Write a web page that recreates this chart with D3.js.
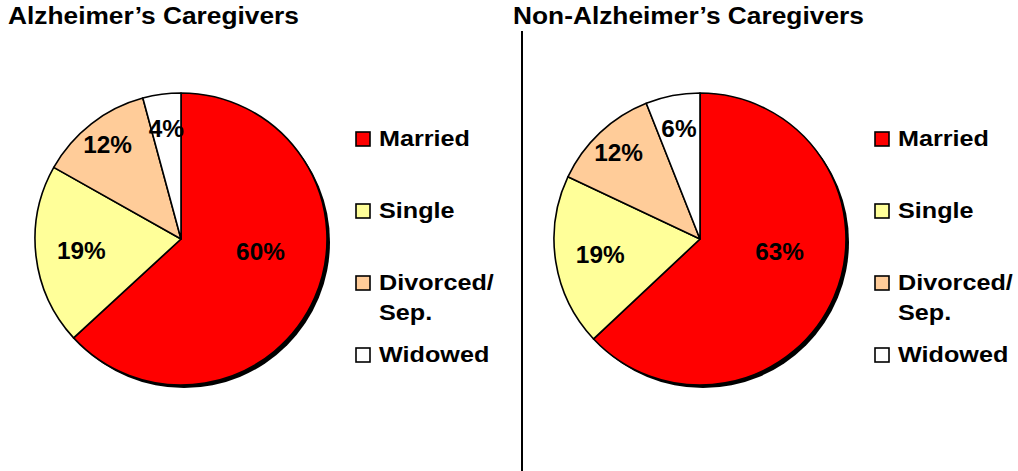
<!DOCTYPE html>
<html>
<head>
<meta charset="utf-8">
<script src="https://cdn.jsdelivr.net/npm/d3@7"></script>
<style>
  body { margin: 0; background: #fff; }
  svg { display: block; }
  text { font-family: "Liberation Sans", Arial, sans-serif; font-weight: bold; fill: #000; }
</style>
</head>
<body>
<svg id="chart"></svg>
<script>
// Marital status of caregivers
const categories = ['Married', 'Single', 'Divorced/ Sep.', 'Widowed'];
const legendLines = [['Married'], ['Single'], ['Divorced/', 'Sep.'], ['Widowed']];
const colors = ['#FF0000', '#FFFF99', '#FFCC99', '#FFFFFF'];
const titles = ['Alzheimer\u2019s Caregivers', 'Non-Alzheimer\u2019s Caregivers'];
const alzValues = [60, 19, 12, 4];
const nonAlzValues = [63, 19, 12, 6];

const WIDTH = 1018;
const HEIGHT = 471;

const radius = 146;
const panelOffset = 519;
const titleStretch = 1.12;
const labelStretch = 1.06;
const legendStretch = 1.12;

let svg = d3.select('#chart')
    .attr('width', WIDTH)
    .attr('height', HEIGHT);

let color = d3.scaleOrdinal()
    .domain(categories)
    .range(colors);

let pie = d3.pie()
    .value(d => d.value)
    .sort(null);

let arc = d3.arc()
    .innerRadius(0)
    .outerRadius(radius);

// "best fit" style: wide slices keep their label nearer the centre
let labelRadius = d3.scaleLinear()
    .domain([0.3, 0.8, 1.2, 4])
    .range([0.76, 0.82, 0.69, 0.55])
    .clamp(true);

function labelPos(d) {
    let span = d.endAngle - d.startAngle;
    let mid = (d.startAngle + d.endAngle) / 2;
    // the big slice label drifts up towards 3 o'clock
    if (span > Math.PI) mid -= 0.25;
    let r = radius * labelRadius(span);
    return [r * Math.sin(mid), -r * Math.cos(mid)];
}

// divider between the two panels
svg.append('line')
    .attr('x1', 522).attr('x2', 522)
    .attr('y1', 31).attr('y2', HEIGHT)
    .attr('stroke', '#000')
    .attr('stroke-width', 2);

function drawPanel(values, title, i) {
    let data = categories.map((c, j) => ({ name: c, value: values[j] }));
    let panel = svg.append('g')
        .attr('transform', `translate(${i * panelOffset}, 0)`);

    panel.append('text')
        .attr('transform', `translate(${8 - i * 14}, 24) scale(${titleStretch}, 1)`)
        .style('font-size', '23.5px')
        .text(title);

    let g = panel.append('g')
        .attr('transform', `translate(181, 239)`);

    // drop shadow
    g.append('circle')
        .attr('cx', 3).attr('cy', 3)
        .attr('r', radius)
        .attr('fill', '#000');

    let arcs = pie(data);

    g.selectAll('.slice')
        .data(arcs)
        .enter().append('path')
        .attr('class', 'slice')
        .attr('d', arc)
        .attr('fill', d => color(d.data.name))
        .attr('stroke', '#000')
        .attr('stroke-width', 1.6)
        .attr('stroke-linejoin', 'round');

    g.selectAll('.pct')
        .data(arcs)
        .enter().append('text')
        .attr('class', 'pct')
        .attr('transform', d => {
            let [x, y] = labelPos(d);
            return `translate(${x}, ${y}) scale(${labelStretch}, 1)`;
        })
        .attr('text-anchor', 'middle')
        .attr('dy', '0.36em')
        .style('font-size', '23px')
        .text(d => d.data.value + '%');

    // legend
    let legend = panel.append('g')
        .attr('transform', 'translate(379, 0)');

    let item = legend.selectAll('.item')
        .data(legendLines)
        .enter().append('g')
        .attr('class', 'item')
        .attr('transform', (d, j) => `translate(0, ${146 + j * 72})`);

    item.append('rect')
        .attr('x', -23)
        .attr('y', -14)
        .attr('width', 14)
        .attr('height', 14)
        .attr('fill', (d, j) => colors[j])
        .attr('stroke', '#000')
        .attr('stroke-width', 1.6);

    item.append('text')
        .attr('transform', `scale(${legendStretch}, 1)`)
        .style('font-size', '22.5px')
        .selectAll('tspan')
        .data(d => d)
        .enter().append('tspan')
        .attr('x', 0)
        .attr('dy', (d, k) => k === 0 ? 0 : 30)
        .text(d => d);
}

drawPanel(alzValues, titles[0], 0);
drawPanel(nonAlzValues, titles[1], 1);
</script>
</body>
</html>
